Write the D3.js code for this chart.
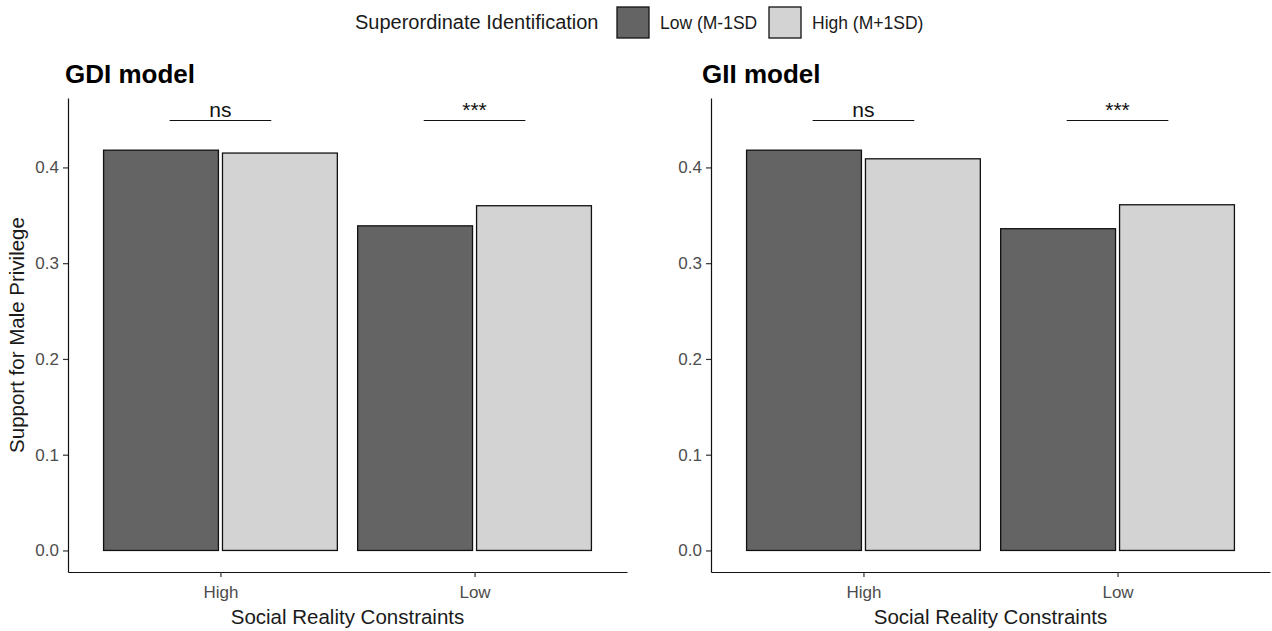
<!DOCTYPE html>
<html>
<head>
<meta charset="utf-8">
<script src="https://cdn.jsdelivr.net/npm/d3@7"></script>
<style>
  html, body { margin: 0; padding: 0; background: #ffffff; }
  svg { display: block; font-family: "Liberation Sans", Arial, sans-serif; }
</style>
</head>
<body>
<svg id="chart" width="1272" height="631"></svg>
<script>
// Support for male privilege by social reality constraints and superordinate identification
const categories = ["High", "Low"];
const seriesNames = ["Low (M-1SD", "High (M+1SD)"];
const seriesColors = ["#646464", "#d3d3d3"];

const gdiLowSD  = [0.418, 0.339];
const gdiHighSD = [0.415, 0.360];
const giiLowSD  = [0.418, 0.336];
const giiHighSD = [0.409, 0.361];

const sigLabels = ["ns", "***"];
const sigLevel = 0.449;
const yTicks = [0.0, 0.1, 0.2, 0.3, 0.4];
const yDomain = [-0.0225, 0.4725];

const panels = [
  { title: "GDI model", values: [gdiLowSD, gdiHighSD], left: 68,  right: 627,  titleX: 65,  yTitle: "Support for Male Privilege" },
  { title: "GII model", values: [giiLowSD, giiHighSD], left: 711, right: 1270, titleX: 702, yTitle: null }
];

const svg = d3.select("#chart");
const plotTop = 98, plotBottom = 572;

const y = d3.scaleLinear().domain(yDomain).range([plotBottom, plotTop]);

panels.forEach(p => {
  const g = svg.append("g");
  const x = d3.scalePoint().domain(categories).range([p.left, p.right]).padding(0.6);
  const step = x.step();
  const inner = d3.scaleBand().domain(seriesNames)
    .range([-0.46 * step, 0.46 * step]).paddingInner(0.034).paddingOuter(0);

  // bars
  const rows = [];
  categories.forEach((c, ci) => {
    seriesNames.forEach((s, si) => rows.push({ cat: c, ser: s, si, v: p.values[si][ci] }));
  });
  g.selectAll("rect.bar").data(rows).join("rect")
    .attr("class", "bar")
    .attr("x", d => x(d.cat) + inner(d.ser))
    .attr("width", inner.bandwidth())
    .attr("y", d => y(d.v))
    .attr("height", d => y(0) - y(d.v))
    .attr("fill", d => seriesColors[d.si])
    .attr("stroke", "#111")
    .attr("stroke-width", 1.3);

  // significance brackets
  categories.forEach((c, ci) => {
    const xc = x(c);
    const half = 0.2 * step;
    g.append("line")
      .attr("x1", xc - half).attr("x2", xc + half)
      .attr("y1", y(sigLevel)).attr("y2", y(sigLevel))
      .attr("stroke", "#111").attr("stroke-width", 1.2);
    g.append("text")
      .attr("x", xc).attr("y", y(sigLevel) - 3.5)
      .attr("text-anchor", "middle")
      .attr("font-size", 21).attr("fill", "#111")
      .text(sigLabels[ci]);
  });

  // y axis
  const yAxis = g.append("g").attr("transform", `translate(${p.left},0)`)
    .call(d3.axisLeft(y).tickValues(yTicks).tickFormat(d3.format(".1f")).tickSize(5).tickSizeOuter(0).tickPadding(4));
  // x axis
  const xAxis = g.append("g").attr("transform", `translate(0,${plotBottom})`)
    .call(d3.axisBottom(x).tickSize(5).tickSizeOuter(0).tickPadding(5));

  [yAxis, xAxis].forEach(ax => {
    ax.select(".domain").attr("stroke", "#111").attr("stroke-width", 1.2);
    ax.selectAll(".tick line").attr("stroke", "#333").attr("stroke-width", 1.2);
    ax.selectAll(".tick text").attr("fill", "#4d4d4d").attr("font-size", 17)
      .attr("font-family", "'Liberation Sans', Arial, sans-serif");
  });
  xAxis.selectAll(".tick text").attr("dy", "0.95em");

  // x axis title
  g.append("text")
    .attr("x", (p.left + p.right) / 2).attr("y", 624)
    .attr("text-anchor", "middle").attr("font-size", 20.5).attr("fill", "#1a1a1a")
    .text("Social Reality Constraints");

  // y axis title
  if (p.yTitle) {
    g.append("text")
      .attr("transform", `translate(24,${(plotTop + plotBottom) / 2}) rotate(-90)`)
      .attr("text-anchor", "middle").attr("font-size", 20.5).attr("fill", "#1a1a1a")
      .text(p.yTitle);
  }

  // panel title
  g.append("text")
    .attr("x", p.titleX).attr("y", 83)
    .attr("font-size", 26).attr("font-weight", "bold").attr("fill", "#000")
    .text(p.title);
});

// legend
const legend = svg.append("g");
legend.append("text").attr("x", 355).attr("y", 29)
  .attr("font-size", 20).attr("fill", "#1a1a1a").text("Superordinate Identification");
const keyX = [617, 769];
const labelX = [660, 812];
seriesNames.forEach((s, i) => {
  legend.append("rect").attr("x", keyX[i]).attr("y", 7).attr("width", 32).attr("height", 31)
    .attr("fill", seriesColors[i]).attr("stroke", "#111").attr("stroke-width", 1.3);
  legend.append("text").attr("x", labelX[i]).attr("y", 29.3)
    .attr("font-size", 17.5).attr("fill", "#1a1a1a").text(s);
});
</script>
</body>
</html>
